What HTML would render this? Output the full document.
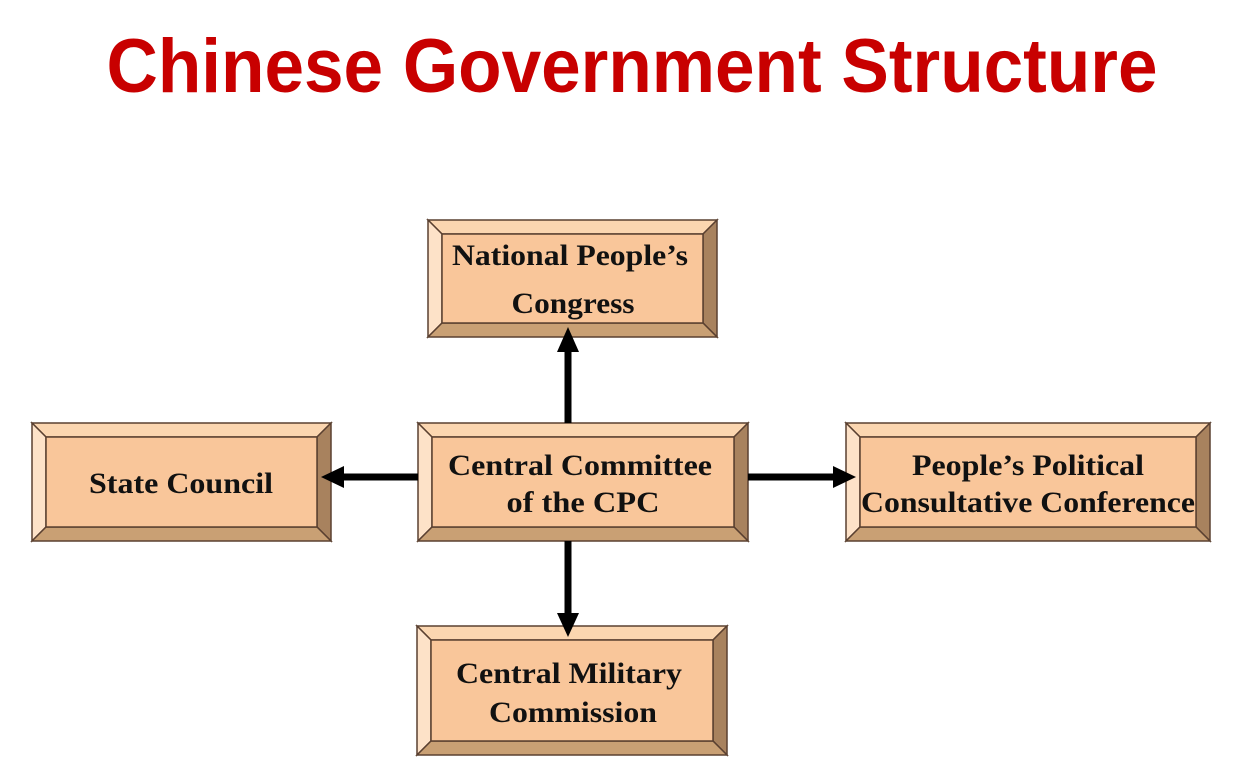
<!DOCTYPE html>
<html><head><meta charset="utf-8"><style>
html,body{margin:0;padding:0;background:#fff;}
svg{display:block;}
.t{font-family:"Liberation Serif",serif;font-weight:bold;font-size:30px;fill:#111;text-anchor:middle;}
</style></head><body>
<svg width="1242" height="784" viewBox="0 0 1242 784" xmlns="http://www.w3.org/2000/svg">
<text x="632" y="92" font-family="Liberation Sans, sans-serif" font-weight="bold" font-size="76" fill="#c80000" text-anchor="middle" textLength="1051" lengthAdjust="spacingAndGlyphs">Chinese Government Structure</text>
<g stroke="#5a4030" stroke-width="1.5" stroke-linejoin="miter">
<polygon points="428,220 717,220 703,234 442,234" fill="#fbd6b0"/>
<polygon points="428,220 442,234 442,323 428,337" fill="#fde2c8"/>
<polygon points="717,220 717,337 703,323 703,234" fill="#a8825e"/>
<polygon points="428,337 442,323 703,323 717,337" fill="#c9a074"/>
<rect x="442" y="234" width="261" height="89" fill="#f9c69a"/>
<polygon points="32,423 331,423 317,437 46,437" fill="#fbd6b0"/>
<polygon points="32,423 46,437 46,527 32,541" fill="#fde2c8"/>
<polygon points="331,423 331,541 317,527 317,437" fill="#a8825e"/>
<polygon points="32,541 46,527 317,527 331,541" fill="#c9a074"/>
<rect x="46" y="437" width="271" height="90" fill="#f9c69a"/>
<polygon points="418,423 748,423 734,437 432,437" fill="#fbd6b0"/>
<polygon points="418,423 432,437 432,527 418,541" fill="#fde2c8"/>
<polygon points="748,423 748,541 734,527 734,437" fill="#a8825e"/>
<polygon points="418,541 432,527 734,527 748,541" fill="#c9a074"/>
<rect x="432" y="437" width="302" height="90" fill="#f9c69a"/>
<polygon points="846,423 1210,423 1196,437 860,437" fill="#fbd6b0"/>
<polygon points="846,423 860,437 860,527 846,541" fill="#fde2c8"/>
<polygon points="1210,423 1210,541 1196,527 1196,437" fill="#a8825e"/>
<polygon points="846,541 860,527 1196,527 1210,541" fill="#c9a074"/>
<rect x="860" y="437" width="336" height="90" fill="#f9c69a"/>
<polygon points="417,626 727,626 713,640 431,640" fill="#fbd6b0"/>
<polygon points="417,626 431,640 431,741 417,755" fill="#fde2c8"/>
<polygon points="727,626 727,755 713,741 713,640" fill="#a8825e"/>
<polygon points="417,755 431,741 713,741 727,755" fill="#c9a074"/>
<rect x="431" y="640" width="282" height="101" fill="#f9c69a"/>
</g>
<g fill="#000">
<rect x="564.5" y="350" width="7" height="73"/>
<polygon points="568,327 579,352 557,352"/>
<rect x="342" y="473.5" width="76" height="7"/>
<polygon points="321,477 344,466 344,488"/>
<rect x="748" y="473.5" width="86" height="7"/>
<polygon points="856,477 833,466 833,488"/>
<rect x="564.5" y="541" width="7" height="74"/>
<polygon points="568,637 557,613 579,613"/>
</g>
<text class="t" x="570" y="265" textLength="236" lengthAdjust="spacingAndGlyphs">National People’s</text>
<text class="t" x="573" y="313" textLength="123" lengthAdjust="spacingAndGlyphs">Congress</text>
<text class="t" x="181" y="493" textLength="184" lengthAdjust="spacingAndGlyphs">State Council</text>
<text class="t" x="580" y="475" textLength="264" lengthAdjust="spacingAndGlyphs">Central Committee</text>
<text class="t" x="583" y="512" textLength="153" lengthAdjust="spacingAndGlyphs">of the CPC</text>
<text class="t" x="1028" y="475" textLength="232" lengthAdjust="spacingAndGlyphs">People’s Political</text>
<text class="t" x="1028" y="512" textLength="334" lengthAdjust="spacingAndGlyphs">Consultative Conference</text>
<text class="t" x="569" y="683" textLength="226" lengthAdjust="spacingAndGlyphs">Central Military</text>
<text class="t" x="573" y="722" textLength="168" lengthAdjust="spacingAndGlyphs">Commission</text>
</svg>
</body></html>
